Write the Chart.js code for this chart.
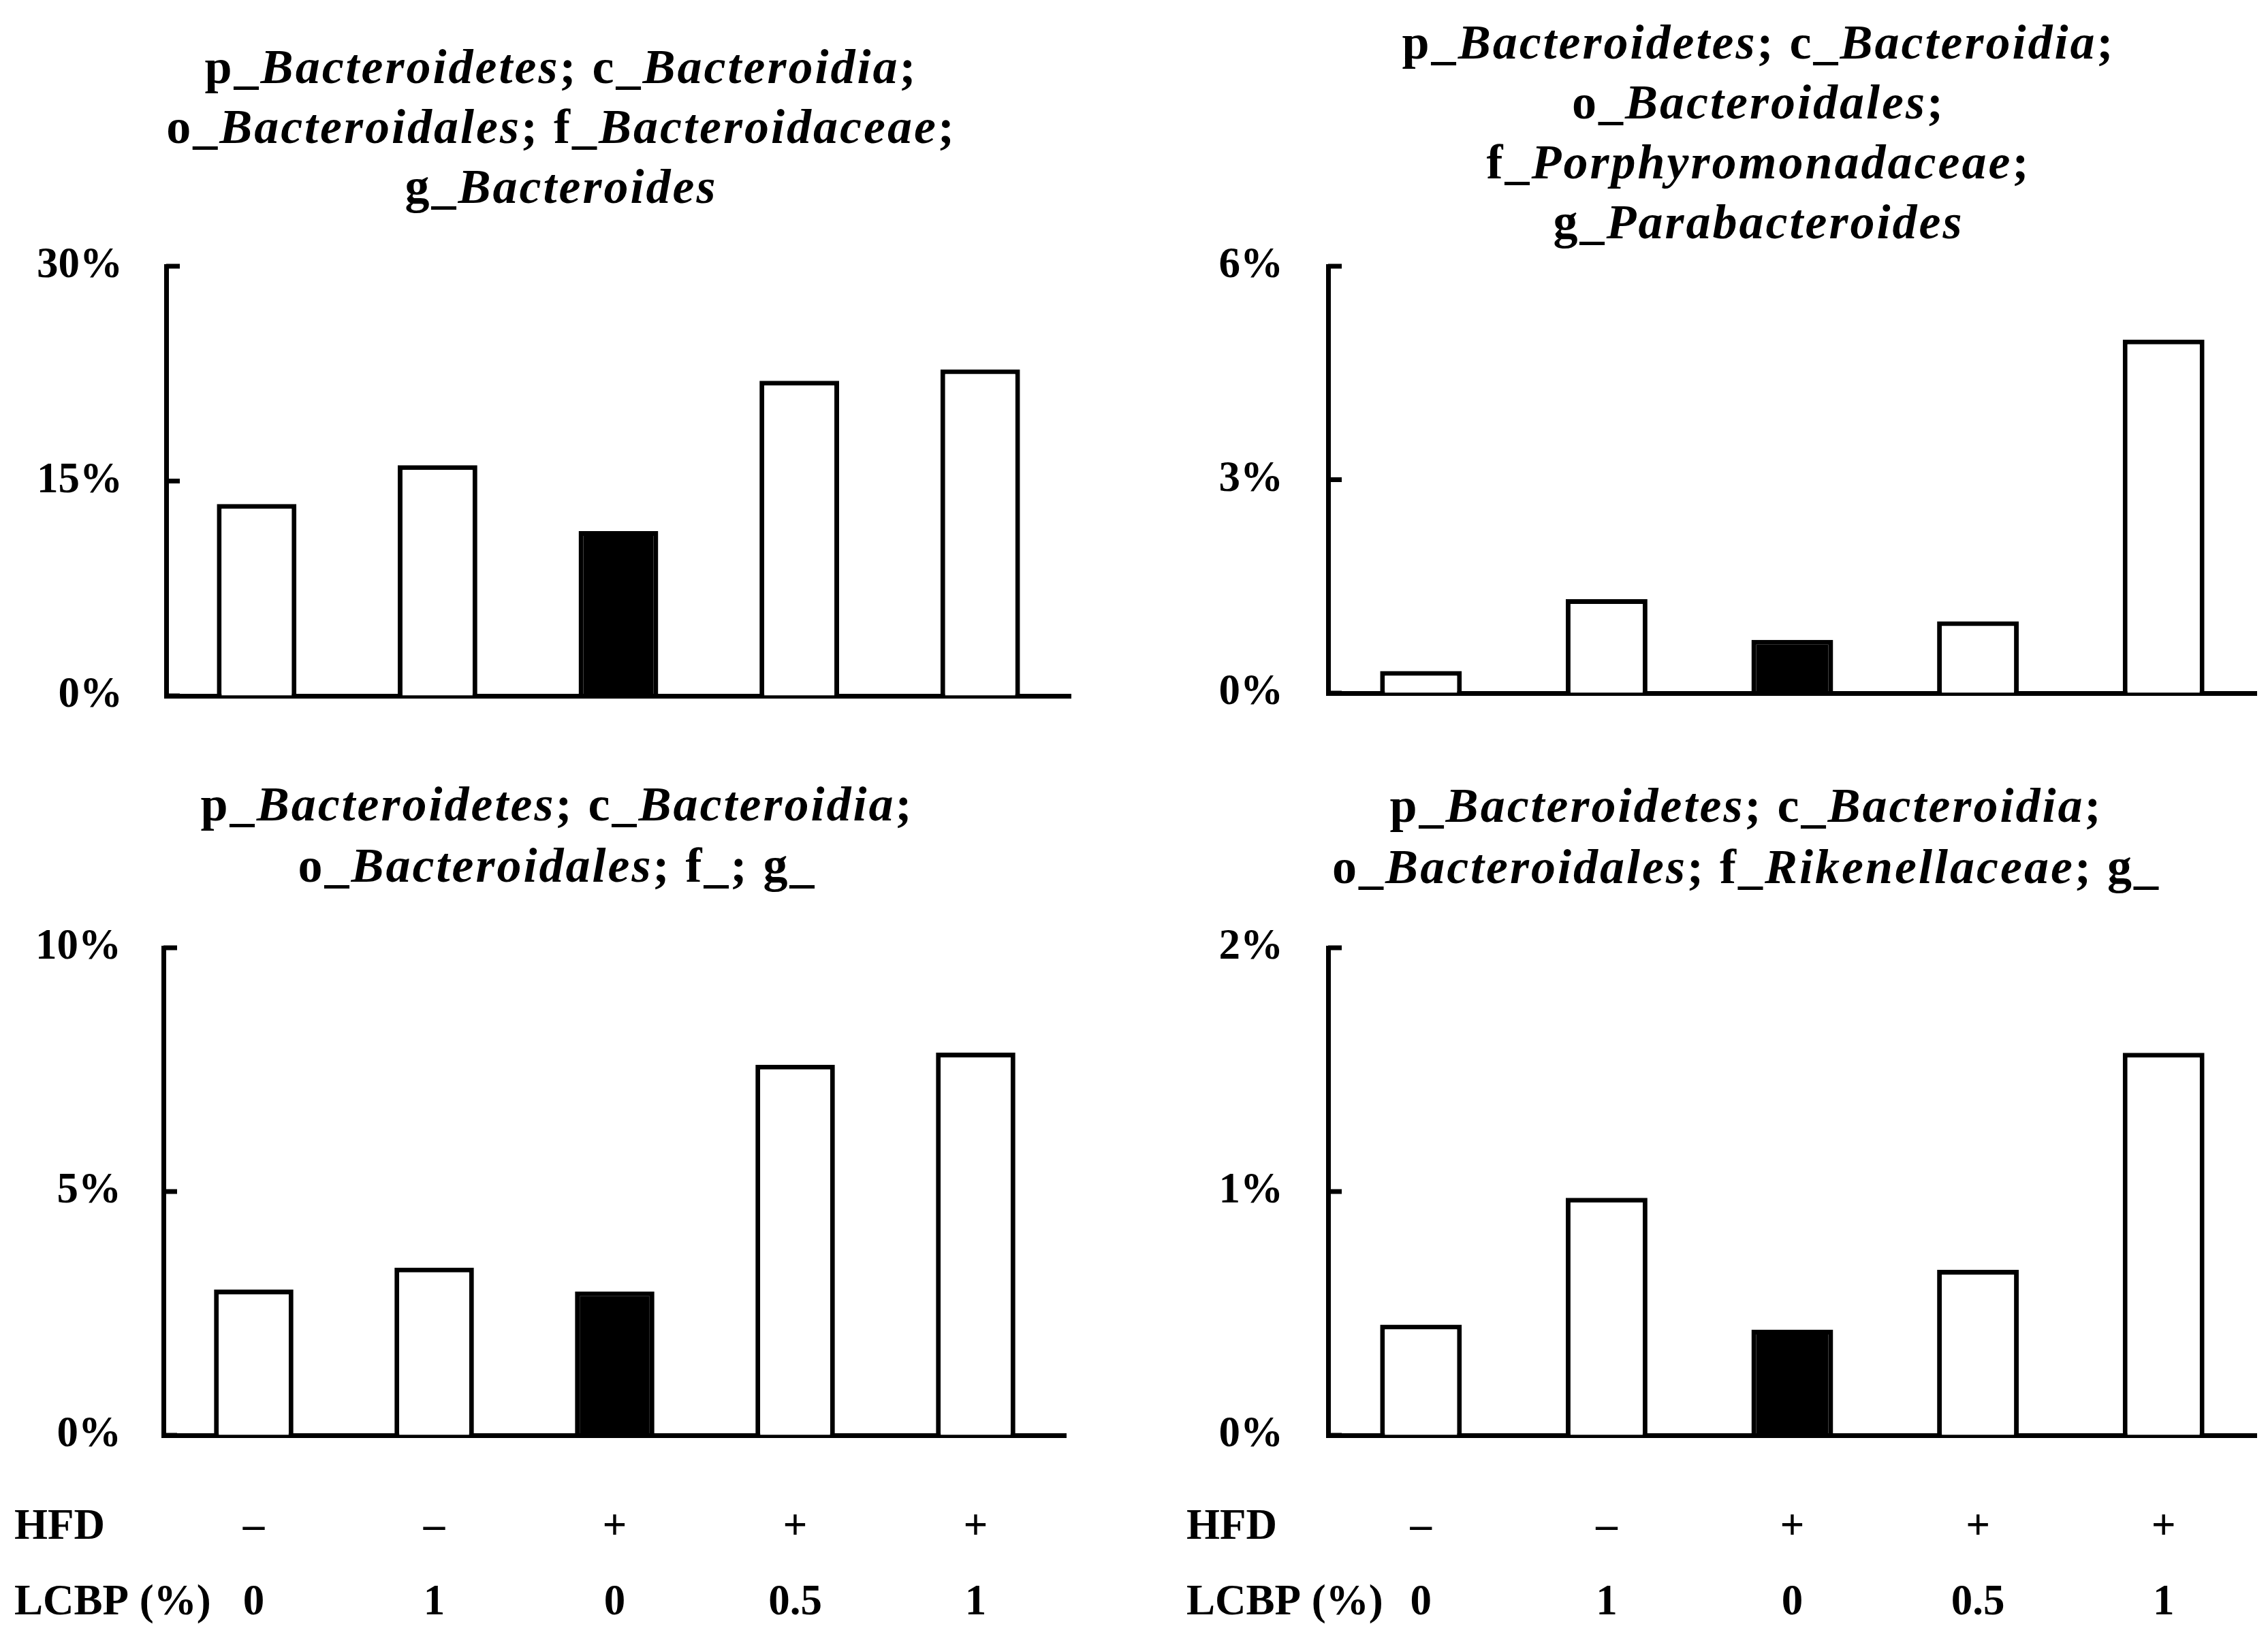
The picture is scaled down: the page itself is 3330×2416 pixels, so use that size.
<!DOCTYPE html>
<html>
<head>
<meta charset="utf-8">
<script src="https://cdn.jsdelivr.net/npm/chart.js@4.4.0/dist/chart.umd.min.js"></script>
<style>
body { margin: 0; background: #fff; }
#fig { position: relative; width: 3330px; height: 2416px; background: #fff; overflow: hidden; }
.t { position: absolute; font-family: 'Liberation Serif', 'Times New Roman', serif; font-weight: bold;
     font-size: 72px; line-height: 88px; letter-spacing: 3px; text-align: center; white-space: nowrap;
     transform: translateX(-50%); color: #000; }
canvas { position: absolute; }
</style>
</head>
<body>
<div id="fig">
  <div class="t" style="left:824px; top:54px;">p_<i>Bacteroidetes</i>; c_<i>Bacteroidia</i>;<br>o_<i>Bacteroidales</i>; f_<i>Bacteroidaceae</i>;<br>g_<i>Bacteroides</i></div>
  <div class="t" style="left:2582px; top:18px;">p_<i>Bacteroidetes</i>; c_<i>Bacteroidia</i>;<br>o_<i>Bacteroidales</i>;<br>f_<i>Porphyromonadaceae</i>;<br>g_<i>Parabacteroides</i></div>
  <div class="t" style="left:818px; top:1136px; line-height:90px;">p_<i>Bacteroidetes</i>; c_<i>Bacteroidia</i>;<br>o_<i>Bacteroidales</i>; f_; g_</div>
  <div class="t" style="left:2564px; top:1138px; line-height:90px;">p_<i>Bacteroidetes</i>; c_<i>Bacteroidia</i>;<br>o_<i>Bacteroidales</i>; f_<i>Rikenellaceae</i>; g_</div>

  <canvas id="c1" width="1600" height="728" style="left:0px; top:330px;"></canvas>
  <canvas id="c2" width="1630" height="728" style="left:1700px; top:330px;"></canvas>
  <canvas id="c3" width="1600" height="1076" style="left:0px; top:1340px;"></canvas>
  <canvas id="c4" width="1630" height="1076" style="left:1700px; top:1340px;"></canvas>
</div>
<script>
// grupos
const hfd  = ['–', '–', '+', '+', '+'];
const lcbp = ['0', '1', '0', '0.5', '1'];
const rowLabels = ['HFD', 'LCBP (%)'];

// abundancia relativa (%)
const bacteroides     = [13.4, 16.1, 11.5, 22.0, 22.8];
const parabacteroides = [0.31, 1.32, 0.75, 1.01, 4.97];
const bacteroidalesNc = [2.99, 3.44, 2.95, 7.60, 7.85];
const rikenellaceae   = [0.454, 0.974, 0.433, 0.679, 1.569];

// maximo del eje y
const yMax = [30, 6, 10, 2];

const font = { family: "'Liberation Serif', 'Times New Roman', serif", weight: 'bold', size: 63 };

// marcas cortas hacia adentro en el eje y
const inTicks = {
  id: 'inTicks',
  afterDraw(chart) {
    const y = chart.scales.y, ctx = chart.ctx;
    ctx.save();
    ctx.strokeStyle = '#000';
    ctx.lineWidth = 7;
    y.ticks.forEach(t => {
      const py = y.getPixelForValue(t.value);
      ctx.beginPath();
      ctx.moveTo(y.right, py);
      ctx.lineTo(y.right + 20, py);
      ctx.stroke();
    });
    ctx.restore();
  }
};

// "HFD" y "LCBP (%)" a la izquierda, en las mismas lineas que las etiquetas del eje x
const rowHeads = {
  id: 'rowHeads',
  afterDraw(chart, args, opts) {
    if (!opts.show) return;
    const sx = chart.scales.x;
    const item = sx.getLabelItems()[0];
    const ctx = chart.ctx;
    ctx.save();
    ctx.font = item.font.string;
    ctx.fillStyle = '#000';
    ctx.textAlign = 'left';
    ctx.textBaseline = item.options.textBaseline;
    const y0 = item.options.translation[1] + item.textOffset;
    rowLabels.forEach((t, i) => ctx.fillText(t, opts.x, y0 + i * item.font.lineHeight));
    ctx.restore();
  }
};

function makeChart(id, values, max, lay) {
  return new Chart(document.getElementById(id), {
    type: 'bar',
    data: {
      labels: hfd.map((h, i) => [h, lcbp[i]]),
      datasets: [{
        data: values,
        backgroundColor: values.map((v, i) => (hfd[i] === '+' && lcbp[i] === '0') ? '#000' : '#fff'),
        borderColor: '#000',
        borderWidth: 7,
        borderSkipped: 'bottom',
        barPercentage: 0.44,
        categoryPercentage: 1
      }]
    },
    options: {
      responsive: false,
      animation: false,
      devicePixelRatio: 1,
      layout: { padding: { left: 0, right: lay.padR, top: lay.padT, bottom: lay.padB } },
      plugins: {
        legend: { display: false },
        tooltip: { enabled: false },
        rowHeads: { show: lay.showX, x: lay.headX }
      },
      scales: {
        x: {
          grid: { display: true, drawOnChartArea: false, drawTicks: false },
          border: { display: true, color: '#000', width: 7 },
          ticks: { display: lay.showX, color: '#000', font: Object.assign({}, font, { lineHeight: 1.76 }),
                   padding: 80, maxRotation: 0, autoSkip: false },
          afterFit: s => { s.height = lay.xHeight; }
        },
        y: {
          min: 0,
          max: max,
          grid: { display: true, drawOnChartArea: false, drawTicks: false },
          border: { display: true, color: '#000', width: 7 },
          ticks: { stepSize: max / 2, color: '#000', font: font, padding: lay.tickPad, callback: v => v + '%' },
          afterFit: s => { s.width = lay.yWidth; s.paddingTop = 0; s.paddingBottom = 0; }
        }
      }
    },
    plugins: [inTicks, rowHeads]
  });
}

makeChart('c1', bacteroides, yMax[0], { padR: 28, padT: 61, padB: 36, xHeight: 0, yWidth: 244, tickPad: 64, showX: false });
makeChart('c2', parabacteroides, yMax[1], { padR: 17, padT: 61, padB: 40, xHeight: 0, yWidth: 250, tickPad: 66, showX: false });
makeChart('c3', bacteroidalesNc, yMax[2], { padR: 35, padT: 52, padB: 0, xHeight: 308, yWidth: 240, tickPad: 62, showX: true, headX: 21 });
makeChart('c4', rikenellaceae, yMax[3], { padR: 17, padT: 52, padB: 0, xHeight: 308, yWidth: 250, tickPad: 66, showX: true, headX: 42 });
</script>
</body>
</html>
